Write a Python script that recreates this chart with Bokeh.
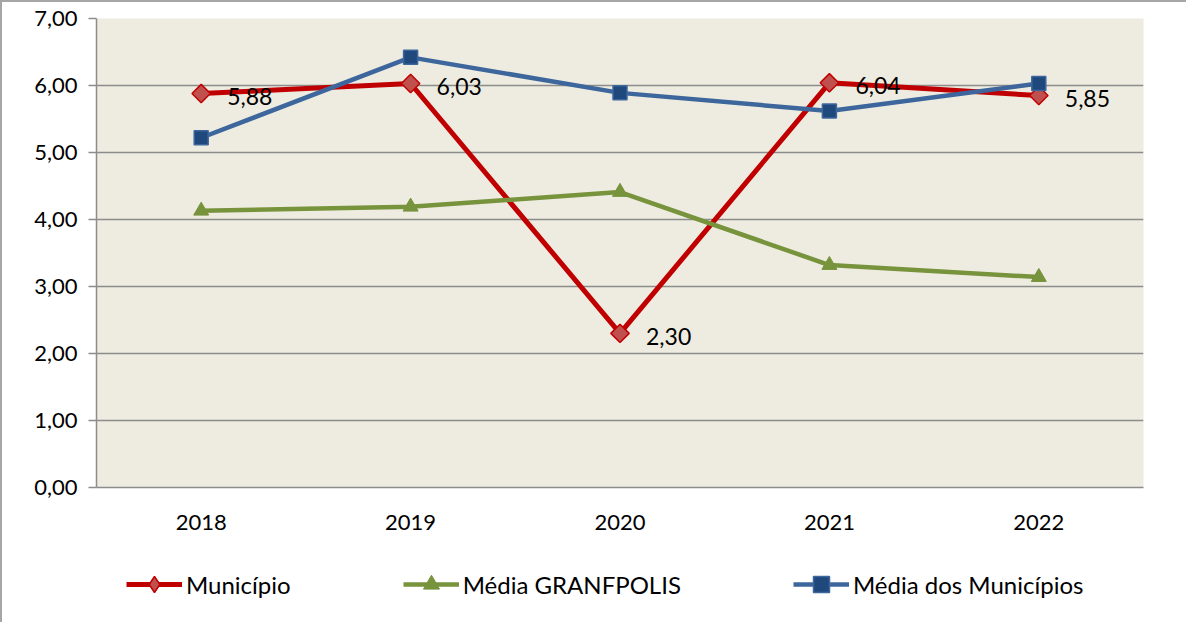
import math
from bokeh.plotting import figure
from bokeh.layouts import column
from bokeh.models import (ColumnDataSource, FactorRange, Range1d, FixedTicker,
                          CustomJSTickFormatter, Legend, LegendItem)
from bokeh.core.properties import value
from bokeh.embed import file_html
from bokeh.resources import INLINE

years = ["2018", "2019", "2020", "2021", "2022"]
municipio = [5.88, 6.03, 2.30, 6.04, 5.85]
media_granfpolis = [4.13, 4.19, 4.41, 3.32, 3.14]
media_municipios = [5.22, 6.42, 5.89, 5.62, 6.03]
y_ticks = [0, 1, 2, 3, 4, 5, 6, 7]

FONT = "Lato"
RED, RED_FILL = "#C00000", "#C0504D"
GREEN = "#77933C"
BLUE, BLUE_FILL = "#3D679C", "#1F497D"

src = ColumnDataSource(dict(x=years, m=municipio, g=media_granfpolis, b=media_municipios,
                            lbl=[f"{v:.2f}".replace(".", ",") for v in municipio]))


def add_series(fig, legend_strip=False):
    r1 = fig.line("x", "m", source=src, line_color=RED, line_width=5)
    if legend_strip:
        s1 = fig.scatter("x", "m", source=src, marker="diamond", size=18,
                         fill_color=RED_FILL, line_color=RED, line_width=1.5)
    else:
        s1 = fig.scatter("x", "m", source=src, marker="square", angle=math.pi / 4, size=13,
                         fill_color=RED_FILL, line_color=RED, line_width=1.5)
    r2 = fig.line("x", "g", source=src, line_color=GREEN, line_width=4.5)
    s2 = fig.scatter("x", "g", source=src, marker="triangle", size=15,
                     fill_color=GREEN, line_color=GREEN, line_width=1)
    r3 = fig.line("x", "b", source=src, line_color=BLUE, line_width=4.5)
    s3 = fig.scatter("x", "b", source=src, marker="square", size=14,
                     fill_color=BLUE_FILL, line_color=BLUE, line_width=1.5)
    return (r1, s1), (r2, s2), (r3, s3)


p = figure(width=1184, height=535, x_range=FactorRange(*years),
           y_range=Range1d(0, 7), output_backend="svg", toolbar_location=None,
           min_border_left=94, min_border_right=43, min_border_top=16,
           min_border_bottom=50)
p.background_fill_color = "#EEECE1"
p.border_fill_color = "white"
p.outline_line_color = None

p.xgrid.grid_line_color = None
p.ygrid.grid_line_color = "#8c8c8c"
p.ygrid.grid_line_width = 1.5
p.yaxis.ticker = FixedTicker(ticks=y_ticks)
p.yaxis.formatter = CustomJSTickFormatter(code="return tick.toFixed(2).replace('.', ',');")
p.yaxis.minor_tick_line_color = None
p.yaxis.major_tick_out = 8
p.yaxis.major_tick_in = 0
p.yaxis.major_label_standoff = 11
for ax in (p.xaxis, p.yaxis):
    ax.axis_line_color = "#8c8c8c"
    ax.axis_line_width = 1.5
    ax.major_tick_line_color = "#8c8c8c"
    ax.major_tick_line_width = 1.5
    ax.major_label_text_font = FONT
    ax.major_label_text_font_size = "22px"
    ax.major_label_text_color = "black"
p.xaxis.major_tick_line_color = None
p.xaxis.major_label_standoff = 21

add_series(p)
p.text("x", "m", text="lbl", source=src, x_offset=26, y_offset=3,
       text_baseline="middle", text_align="left", text_font=value(FONT),
       text_font_size="23px", text_color="black")

# legend strip: same series, drawn out of view so only the legend shows
lf = figure(width=1184, height=85, x_range=FactorRange(*years),
            y_range=Range1d(100, 101), output_backend="svg", toolbar_location=None,
            min_border=0)
lf.axis.visible = False
lf.grid.visible = False
lf.outline_line_color = None
lf.background_fill_color = "white"
(l1, l2, l3) = add_series(lf, legend_strip=True)

legend = Legend(items=[
    LegendItem(label="Município", renderers=list(l1)),
    LegendItem(label="Média GRANFPOLIS", renderers=list(l2)),
    LegendItem(label="Média dos Municípios", renderers=list(l3)),
], orientation="horizontal", location=(30, 18))
legend.background_fill_alpha = 0
legend.border_line_color = None
legend.label_text_font = FONT
legend.label_text_font_size = "24px"
legend.label_text_color = "black"
legend.glyph_width = 56
legend.glyph_height = 40
legend.label_standoff = 4
legend.spacing = 112
legend.padding = 0
legend.margin = 0
lf.add_layout(legend, "center")

layout = column(p, lf, spacing=0)
layout.styles = {"border-left": "2px solid #a6a6a6", "border-top": "2px solid #a6a6a6"}

open("out.html", "w").write(file_html(layout, INLINE))
